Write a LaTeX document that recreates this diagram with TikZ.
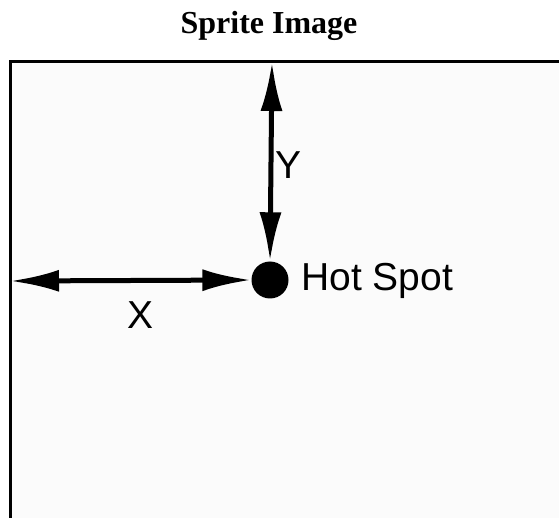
\documentclass[tikz,border=0pt]{standalone}
\usepackage{fontspec}
\setmainfont{Liberation Serif}
\newfontfamily\labelfont{Liberation Sans}
\usetikzlibrary{arrows.meta}
\begin{document}
\begin{tikzpicture}[x=1pt,y=-1pt,
  dimarrow/.style={line width=5pt,{Latex[length=49pt,width=22pt]}-{Latex[length=49pt,width=22pt]}},
  lbl/.style={font=\labelfont\fontsize{39}{41}\selectfont, inner sep=0pt}]
\useasboundingbox (0,0) rectangle (559,518);
\fill[white] (0,0) rectangle (559,518);
\fill[black!1.5] (10,62) rectangle (559,518);
\draw[line width=3pt] (10,520) -- (10,62) -- (560,62);
\node[font=\bfseries\fontsize{32}{34}\selectfont, inner sep=0pt, anchor=base] (title) at (269,34) {Sprite Image};
\coordinate (top) at (272,62);
\coordinate (left) at (10,281);
\node[circle, fill=black, minimum size=37pt, inner sep=0pt] (hot) at (270,280) {};
\draw[dimarrow] (top) -- (hot.north);
\draw[dimarrow] (left) -- (hot.west);
\node[lbl, anchor=west] (hs) at (301,281) {Hot Spot};
\node[lbl] (y) at (289,165) {Y};
\node[lbl] (x) at (141,315) {X};
\end{tikzpicture}
\end{document}
